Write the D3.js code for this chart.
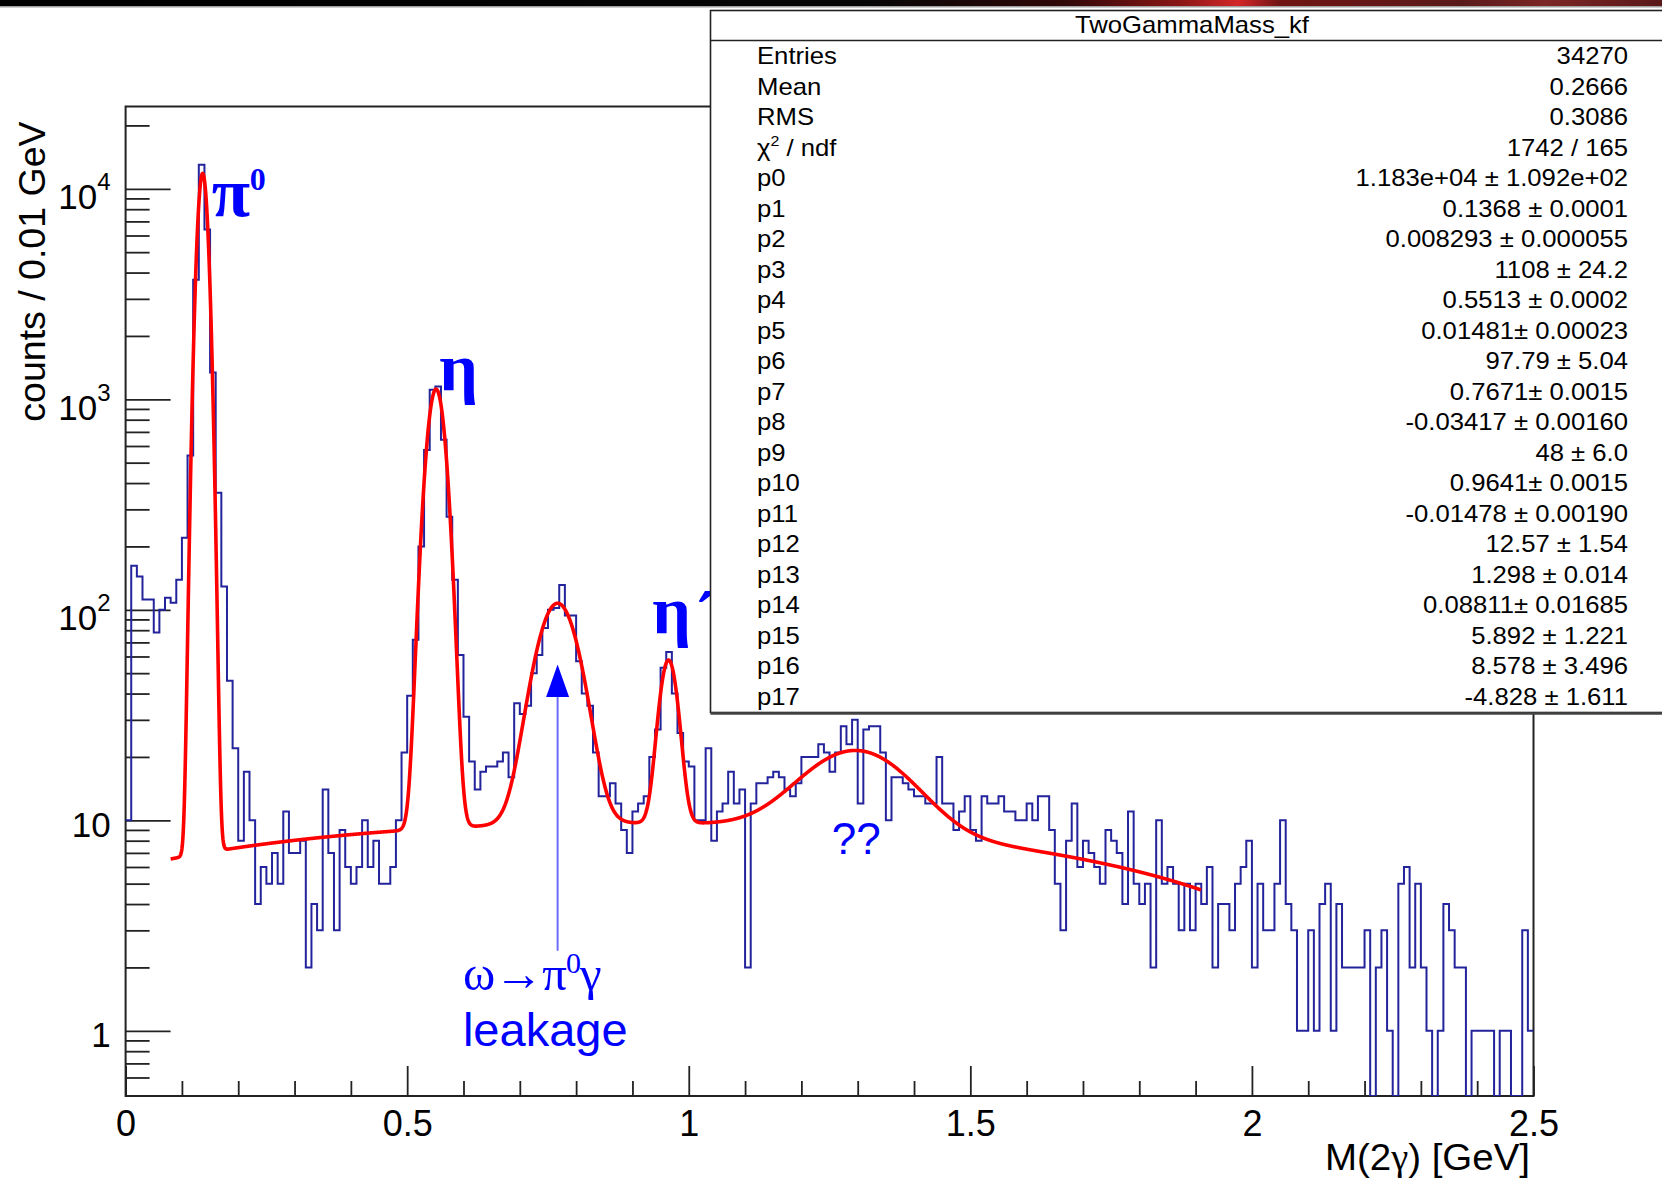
<!DOCTYPE html>
<html>
<head>
<meta charset="utf-8">
<script src="https://cdn.jsdelivr.net/npm/d3@7"></script>
<style>
  body { margin: 0; background: #fff; }
  svg { display: block; }
</style>
</head>
<body>
<svg id="chart" width="1662" height="1183"></svg>
<script>
// TwoGammaMass_kf : counts per 0.01 GeV bin, 0 .. 2.5 GeV
binLow = 0;
binWidth = 0.01;
counts = [
  10, 162, 144, 112, 112, 78, 100, 114, 108, 139,
  220, 540, 3700, 13000, 6400, 1340, 360, 129, 46, 22,
  8, 17, 10, 4, 6, 5, 7, 5, 11, 7,
  7, 8, 2, 4, 3, 14, 7, 3, 9, 6,
  5, 6, 10, 6, 8, 5, 5, 6, 10, 21,
  39, 72, 200, 575, 1109, 1151, 642, 277, 139, 61,
  31, 19, 14, 17, 18, 18, 19, 21, 16, 36,
  32, 35, 50, 61, 82, 100, 102, 131, 94, 94,
  57, 40, 35, 21, 13, 13, 15, 12, 9, 7,
  11, 12, 13, 20, 27, 53, 63, 40, 26, 19,
  18, 10, 10, 22, 8, 11, 12, 17, 12, 14,
  2, 12, 15, 15, 16, 17, 16, 14, 13, 15,
  20, 20, 20, 23, 21, 17, 21, 28, 23, 30,
  12, 27, 28, 28, 21, 10, 16, 16, 15, 14,
  13, 13, 12, 12, 20, 12, 12, 9, 11, 13,
  9, 8, 13, 12, 12, 13, 11, 11, 10, 10,
  12, 10, 13, 13, 9, 5, 3, 8, 12, 6,
  8, 7, 6, 5, 9, 8, 7, 4, 11, 5,
  4, 5, 2, 10, 5, 6, 5, 3, 5, 3,
  5, 4, 6, 2, 4, 4, 3, 5, 6, 8,
  2, 5, 3, 3, 5, 10, 4, 3, 1, 1,
  3, 1, 4, 5, 1, 4, 2, 2, 2, 2,
  3, 0, 2, 3, 1, 0, 5, 6, 2, 5,
  2, 1, 0, 1, 4, 3, 2, 2, 0, 1,
  1, 1, 1, 0, 1, 1, 0, 0, 3, 1
];

// fit parameters p0..p17 as printed in the stats box
fitPar = [11830, 0.1368, 0.008293, 1108, 0.5513, 0.01481, 97.79, 0.7671, -0.03417,
  48, 0.9641, -0.01478, 12.57, 1.298, 0.08811, 5.892, 8.578, -4.828];
fitRange = [0.08, 1.91];

statsTitle = "TwoGammaMass_kf";
statsNames = ["Entries", "Mean", "RMS", "chi2", "p0", "p1", "p2", "p3", "p4", "p5", "p6",
  "p7", "p8", "p9", "p10", "p11", "p12", "p13", "p14", "p15", "p16", "p17"];
statsValues = ["34270", "0.2666", "0.3086", "1742 / 165",
  "1.183e+04 ± 1.092e+02", "0.1368 ± 0.0001", "0.008293 ± 0.000055", "1108 ± 24.2",
  "0.5513 ± 0.0002", "0.01481± 0.00023", "97.79 ± 5.04", "0.7671± 0.0015",
  "-0.03417 ± 0.00160", "48 ± 6.0", "0.9641± 0.0015", "-0.01478 ± 0.00190",
  "12.57 ± 1.54", "1.298 ± 0.014", "0.08811± 0.01685", "5.892 ± 1.221",
  "8.578 ± 3.496", "-4.828 ± 1.611"];

xTicks = [0, 0.5, 1, 1.5, 2, 2.5];
yDecades = [1, 10, 100, 1000, 10000];

width = 1662;
height = 1183;
frame = {left: 125.6, right: 1533.5, top: 106.5, bottom: 1096};
yMin = 0.49;
yMax = 24600;

sans = "'Liberation Sans', Arial, Helvetica, sans-serif";
serif = "'Liberation Serif', 'Times New Roman', serif";

x = d3.scaleLinear().domain([0, 2.5]).range([frame.left, frame.right]);
y = d3.scaleLog().domain([yMin, yMax]).range([frame.bottom, frame.top]);

function gaus(v, a, m, s) {
  return a * Math.exp(-0.5 * ((v - m) / s) * ((v - m) / s));
}

function fitFunc(v) {
  const p = fitPar;
  return gaus(v, p[0], p[1], p[2]) + gaus(v, p[3], p[4], p[5]) + gaus(v, p[6], p[7], p[8])
    + gaus(v, p[9], p[10], p[11]) + gaus(v, p[12], p[13], p[14])
    + p[15] + p[16] * v + p[17] * v * v;
}

function draw() {
  const svg = d3.select("#chart");
  svg.append("rect").attr("width", width).attr("height", height).attr("fill", "#fff");

  const defs = svg.append("defs");
  // slide header strip
  const grad = defs.append("linearGradient").attr("id", "topbar");
  [[0, "#000"], [0.52, "#060606"], [0.64, "#300808"], [0.71, "#8a1616"], [0.745, "#d42628"],
   [0.77, "#701414"], [0.88, "#5a1a1a"], [0.93, "#7c2626"], [1, "#5a1818"]]
    .forEach(s => grad.append("stop").attr("offset", s[0]).attr("stop-color", s[1]));
  svg.append("rect").attr("width", width).attr("height", 6).attr("fill", "url(#topbar)");
  svg.append("rect").attr("y", 6).attr("width", width).attr("height", 1.5).attr("fill", "#a0a0a0");

  defs.append("clipPath").attr("id", "frameClip")
    .append("rect")
      .attr("x", frame.left).attr("y", frame.top)
      .attr("width", frame.right - frame.left).attr("height", frame.bottom - frame.top);

  // x axis ticks
  const xMinor = d3.range(0, 26).map(i => i / 10).filter(v => Math.round(v * 10) % 5 !== 0);
  svg.append("g")
      .attr("transform", `translate(0,${frame.bottom})`)
      .call(d3.axisBottom(x).tickValues(xMinor).tickSize(-15).tickSizeOuter(0).tickFormat(""))
      .call(g => g.select(".domain").remove());
  svg.append("g")
      .attr("transform", `translate(0,${frame.bottom})`)
      .call(d3.axisBottom(x).tickValues(xTicks).tickSize(-30).tickSizeOuter(0).tickPadding(14)
        .tickFormat(d3.format("")))
      .attr("font-family", sans)
      .attr("font-size", 36)
      .call(g => g.select(".domain").remove())
      .call(g => g.selectAll("text").attr("fill", "#000"));

  // y axis ticks (log)
  const yMinor = [];
  [-1, 0, 1, 2, 3, 4].forEach(k => d3.range(2, 10).forEach(m => {
    const v = m * Math.pow(10, k);
    if (v > 0.55 && v < yMax) yMinor.push(v);
  }));
  svg.append("g")
      .attr("transform", `translate(${frame.left},0)`)
      .call(d3.axisLeft(y).tickValues(yMinor).tickSize(-24).tickSizeOuter(0).tickFormat(""))
      .call(g => g.select(".domain").remove());
  const yAxis = svg.append("g")
      .attr("transform", `translate(${frame.left},0)`)
      .call(d3.axisLeft(y).tickValues(yDecades).tickSize(-45).tickSizeOuter(0).tickFormat(""))
      .call(g => g.select(".domain").remove());
  svg.selectAll(".tick line").attr("stroke", "#222").attr("stroke-width", 1.8);

  // decade labels, 10^n written with a raised exponent
  yAxis.selectAll(".tick").each(function(d) {
    const n = Math.round(Math.log10(d));
    const t = d3.select(this).append("text")
        .attr("fill", "#000")
        .attr("font-family", sans)
        .attr("font-size", 35)
        .attr("text-anchor", "end")
        .attr("x", -15);
    if (n < 2) {
      t.attr("y", 16).text(n === 0 ? "1" : "10");
    } else {
      t.attr("y", 20).text("10");
      t.append("tspan").attr("font-size", 24).attr("dy", -19).text(n);
    }
  });

  // frame
  svg.append("rect")
      .attr("x", frame.left).attr("y", frame.top)
      .attr("width", frame.right - frame.left).attr("height", frame.bottom - frame.top)
      .attr("fill", "none").attr("stroke", "#222").attr("stroke-width", 2);

  // histogram outline
  const steps = counts.map((c, i) => [binLow + i * binWidth, c]);
  steps.push([binLow + counts.length * binWidth, counts[counts.length - 1]]);
  const histLine = d3.line()
      .x(d => x(d[0]))
      .y(d => y(Math.max(d[1], yMin)))
      .curve(d3.curveStepAfter);
  const plot = svg.append("g").attr("clip-path", "url(#frameClip)");
  plot.append("path")
      .attr("d", histLine(steps))
      .attr("fill", "none")
      .attr("stroke", "#23239c")
      .attr("stroke-width", 2);

  // fit curve from printed parameters
  const fx = d3.range(fitRange[0], fitRange[1], 0.0005);
  const fitLine = d3.line().x(d => x(d)).y(d => y(fitFunc(d)));
  plot.append("path")
      .attr("d", fitLine(fx))
      .attr("fill", "none")
      .attr("stroke", "#ff0000")
      .attr("stroke-width", 3.6)
      .attr("stroke-linejoin", "round");

  // annotations
  const blue = "#0000ff";
  const note = svg.append("g").attr("fill", blue);
  note.append("text").attr("x", x(0.153)).attr("y", y(7400))
      .attr("font-family", serif).attr("font-weight", "bold").attr("font-size", 70).text("π");
  note.append("text").attr("x", x(0.2205)).attr("y", y(9900))
      .attr("font-family", serif).attr("font-weight", "bold").attr("font-size", 32).text("0");
  note.append("text").attr("x", x(0.557)).attr("y", y(1100))
      .attr("font-family", serif).attr("font-weight", "bold").attr("font-size", 68).text("η");
  note.append("text").attr("x", x(0.935)).attr("y", y(77))
      .attr("font-family", serif).attr("font-weight", "bold").attr("font-size", 68).text("η");
  note.append("text").attr("x", x(1.0095)).attr("y", y(71))
      .attr("font-family", serif).attr("font-weight", "bold").attr("font-size", 72).text("´");
  note.append("text").attr("x", x(1.254)).attr("y", y(6.9))
      .attr("font-family", sans).attr("font-size", 44).text("??");
  const omega = note.append("text").attr("x", x(0.599)).attr("y", y(1.57))
      .attr("font-family", serif).attr("font-size", 49)
      .attr("letter-spacing", -1);
  omega.append("tspan").text("ω→π");
  omega.append("tspan").attr("font-size", 30).attr("dy", -17).text("0");
  omega.append("tspan").attr("dy", 17).text("γ");
  note.append("text").attr("x", x(0.599)).attr("y", y(0.85))
      .attr("font-family", sans).attr("font-size", 47).text("leakage");

  // arrow to the omega bump
  const ax = x(fitPar[7]);
  svg.append("line")
      .attr("x1", ax).attr("x2", ax).attr("y1", y(38.5)).attr("y2", y(2.4))
      .attr("stroke", "#6b6bff").attr("stroke-width", 2);
  svg.append("path")
      .attr("d", `M${ax - 11.5},${y(38.5)}L${ax + 11.5},${y(38.5)}L${ax},${y(55)}Z`)
      .attr("fill", blue);

  // axis titles
  svg.append("text")
      .attr("transform", `translate(45,${frame.top + 15}) rotate(-90)`)
      .attr("text-anchor", "end")
      .attr("font-family", sans).attr("font-size", 37.5)
      .text("counts / 0.01 GeV");
  const xt = svg.append("text")
      .attr("transform", "translate(1530,1170) scale(1.04,1)")
      .attr("text-anchor", "end")
      .attr("font-family", sans).attr("font-size", 37);
  xt.append("tspan").text("M(2");
  xt.append("tspan").attr("font-family", serif).text("γ");
  xt.append("tspan").text(") [GeV]");

  // stats box
  const box = {x: 710.5, y: 10.5, w: 965, h: 702};
  const stats = svg.append("g").attr("font-family", sans).attr("font-size", 24).attr("fill", "#000");
  stats.append("rect")
      .attr("x", box.x).attr("y", box.y).attr("width", box.w).attr("height", box.h)
      .attr("fill", "#fff").attr("stroke", "#222").attr("stroke-width", 1.6);
  stats.append("line")
      .attr("x1", box.x).attr("x2", box.x + box.w).attr("y1", box.y + box.h + 1).attr("y2", box.y + box.h + 1)
      .attr("stroke", "#444").attr("stroke-width", 2.5);
  stats.append("line")
      .attr("x1", box.x).attr("x2", box.x + box.w).attr("y1", 40.5).attr("y2", 40.5)
      .attr("stroke", "#222").attr("stroke-width", 1.6);
  const sx = 1.07;
  stats.append("text")
      .attr("transform", `translate(1192,33) scale(${sx},1)`)
      .attr("text-anchor", "middle")
      .text(statsTitle);
  const rowStep = 30.52;
  statsNames.forEach((name, i) => {
    const by = 64 + i * rowStep;
    const lt = stats.append("text").attr("transform", `translate(757,${by}) scale(${sx},1)`);
    if (name === "chi2") {
      lt.append("tspan").text("χ");
      lt.append("tspan").attr("font-size", 15).attr("dy", -10).text("2");
      lt.append("tspan").attr("dy", 10).text(" / ndf");
    } else {
      lt.text(name);
    }
    stats.append("text")
        .attr("transform", `translate(1628,${by}) scale(${sx},1)`)
        .attr("text-anchor", "end")
        .text(statsValues[i]);
  });
}
draw();
</script>
</body>
</html>
